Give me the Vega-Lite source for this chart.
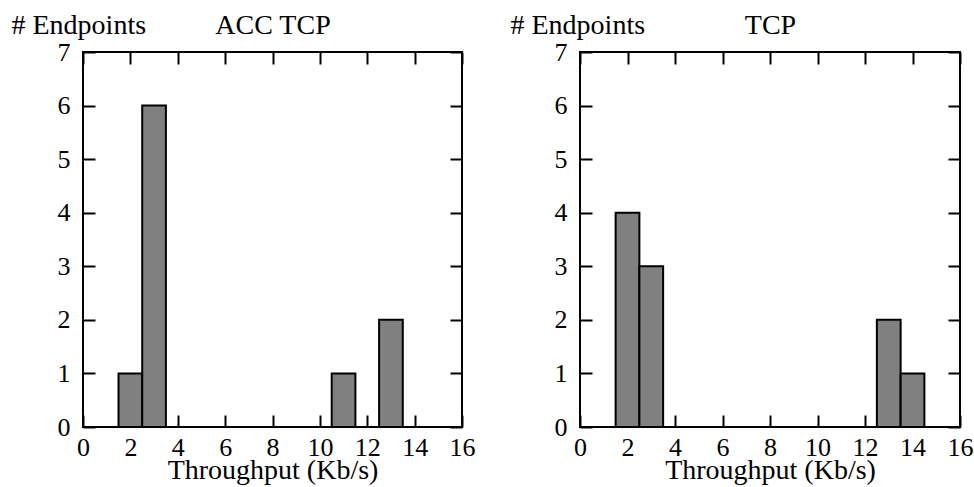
{
  "$schema": "https://vega.github.io/schema/vega-lite/v6.json",
  "background": "white",
  "padding": {"left": 10, "top": 10, "right": 0, "bottom": 0},
  "bounds": "flush",
  "spacing": 118,
  "config": {
    "view": {"stroke": "black", "strokeWidth": 2},
    "axis": {
      "labelFont": "Liberation Serif",
      "titleFont": "Liberation Serif",
      "labelFontSize": 26,
      "titleFontSize": 28,
      "titleFontWeight": "normal",
      "labelColor": "black",
      "titleColor": "black",
      "tickColor": "black",
      "tickWidth": 2,
      "tickSize": -12,
      "domain": false,
      "grid": false,
      "labelFlush": false,
      "labelOverlap": false
    }
  },
  "hconcat": [
    {
      "width": 379,
      "height": 375,
      "data": {"values": [
        {"throughput": 2, "count": 1},
        {"throughput": 3, "count": 6},
        {"throughput": 11, "count": 1},
        {"throughput": 13, "count": 2}
      ]},
      "transform": [{"bin": {"step": 1, "anchor": 0.5, "extent": [0.5, 15.5]}, "field": "throughput", "as": ["lo", "hi"]}],
      "resolve": {"axis": {"x": "independent", "y": "independent"}},
      "layer": [
        {
          "mark": {"type": "bar", "fill": "#808080", "stroke": "black", "strokeWidth": 2},
          "encoding": {
            "x": {"field": "lo", "type": "quantitative", "scale": {"domain": [0, 16], "nice": false},
              "axis": {"orient": "bottom", "values": [0, 2, 4, 6, 8, 10, 12, 14, 16], "labelPadding": 19, "title": "Throughput (Kb/s)", "titleY": 51, "titleBaseline": "alphabetic"}},
            "x2": {"field": "hi"},
            "y": {"field": "count", "type": "quantitative", "scale": {"domain": [0, 7], "nice": false},
              "axis": {"orient": "left", "values": [0, 1, 2, 3, 4, 5, 6, 7], "labelPadding": 25, "title": "# Endpoints", "titleAngle": 0, "titleAlign": "left", "titleBaseline": "alphabetic", "titleX": -72, "titleY": -19}},
            "y2": {"datum": 0}
          }
        },
        {
          "mark": {"type": "bar", "opacity": 0},
          "encoding": {
            "x": {"field": "lo", "type": "quantitative", "scale": {"domain": [0, 16], "nice": false},
              "axis": {"orient": "top", "values": [0, 2, 4, 6, 8, 10, 12, 14, 16], "labels": false, "title": "ACC TCP", "titleY": -19, "titleBaseline": "alphabetic"}},
            "x2": {"field": "hi"},
            "y": {"field": "count", "type": "quantitative", "scale": {"domain": [0, 7], "nice": false},
              "axis": {"orient": "right", "values": [0, 1, 2, 3, 4, 5, 6, 7], "labels": false, "title": null}},
            "y2": {"datum": 0}
          }
        }
      ]
    },
    {
      "width": 380,
      "height": 375,
      "data": {"values": [
        {"throughput": 2, "count": 4},
        {"throughput": 3, "count": 3},
        {"throughput": 13, "count": 2},
        {"throughput": 14, "count": 1}
      ]},
      "transform": [{"bin": {"step": 1, "anchor": 0.5, "extent": [0.5, 15.5]}, "field": "throughput", "as": ["lo", "hi"]}],
      "resolve": {"axis": {"x": "independent", "y": "independent"}},
      "layer": [
        {
          "mark": {"type": "bar", "fill": "#808080", "stroke": "black", "strokeWidth": 2},
          "encoding": {
            "x": {"field": "lo", "type": "quantitative", "scale": {"domain": [0, 16], "nice": false},
              "axis": {"orient": "bottom", "values": [0, 2, 4, 6, 8, 10, 12, 14, 16], "labelPadding": 19, "title": "Throughput (Kb/s)", "titleY": 51, "titleBaseline": "alphabetic"}},
            "x2": {"field": "hi"},
            "y": {"field": "count", "type": "quantitative", "scale": {"domain": [0, 7], "nice": false},
              "axis": {"orient": "left", "values": [0, 1, 2, 3, 4, 5, 6, 7], "labelPadding": 25, "title": "# Endpoints", "titleAngle": 0, "titleAlign": "left", "titleBaseline": "alphabetic", "titleX": -70, "titleY": -19}},
            "y2": {"datum": 0}
          }
        },
        {
          "mark": {"type": "bar", "opacity": 0},
          "encoding": {
            "x": {"field": "lo", "type": "quantitative", "scale": {"domain": [0, 16], "nice": false},
              "axis": {"orient": "top", "values": [0, 2, 4, 6, 8, 10, 12, 14, 16], "labels": false, "title": "TCP", "titleY": -19, "titleBaseline": "alphabetic"}},
            "x2": {"field": "hi"},
            "y": {"field": "count", "type": "quantitative", "scale": {"domain": [0, 7], "nice": false},
              "axis": {"orient": "right", "values": [0, 1, 2, 3, 4, 5, 6, 7], "labels": false, "title": null}},
            "y2": {"datum": 0}
          }
        }
      ]
    }
  ]
}
